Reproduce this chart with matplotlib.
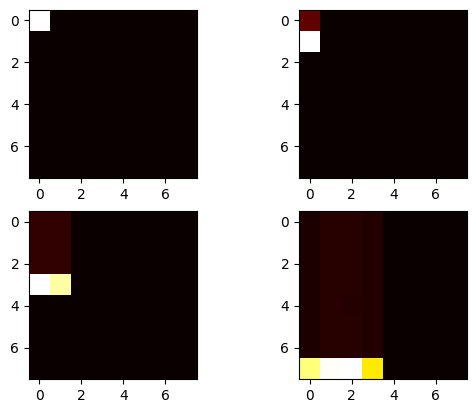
import matplotlib
matplotlib.use('Agg')
import matplotlib.pyplot as plt
import numpy as np

# relative intensity of each cell, one 8x8 grid per frame
frame1 = [
    [1.0, 0, 0, 0, 0, 0, 0, 0],
    [0, 0, 0, 0, 0, 0, 0, 0],
    [0, 0, 0, 0, 0, 0, 0, 0],
    [0, 0, 0, 0, 0, 0, 0, 0],
    [0, 0, 0, 0, 0, 0, 0, 0],
    [0, 0, 0, 0, 0, 0, 0, 0],
    [0, 0, 0, 0, 0, 0, 0, 0],
    [0, 0, 0, 0, 0, 0, 0, 0],
]
frame2 = [
    [0.13, 0, 0, 0, 0, 0, 0, 0],
    [1.0, 0, 0, 0, 0, 0, 0, 0],
    [0, 0, 0, 0, 0, 0, 0, 0],
    [0, 0, 0, 0, 0, 0, 0, 0],
    [0, 0, 0, 0, 0, 0, 0, 0],
    [0, 0, 0, 0, 0, 0, 0, 0],
    [0, 0, 0, 0, 0, 0, 0, 0],
    [0, 0, 0, 0, 0, 0, 0, 0],
]
frame3 = [
    [0.06, 0.06, 0, 0, 0, 0, 0, 0],
    [0.06, 0.06, 0, 0, 0, 0, 0, 0],
    [0.06, 0.06, 0, 0, 0, 0, 0, 0],
    [1.0, 0.91, 0, 0, 0, 0, 0, 0],
    [0, 0, 0, 0, 0, 0, 0, 0],
    [0, 0, 0, 0, 0, 0, 0, 0],
    [0, 0, 0, 0, 0, 0, 0, 0],
    [0, 0, 0, 0, 0, 0, 0, 0],
]
frame4 = [
    [0.029, 0.044, 0.044, 0.036, 0, 0, 0, 0],
    [0.029, 0.044, 0.044, 0.036, 0, 0, 0, 0],
    [0.029, 0.044, 0.044, 0.036, 0, 0, 0, 0],
    [0.029, 0.044, 0.044, 0.036, 0, 0, 0, 0],
    [0.029, 0.044, 0.041, 0.036, 0, 0, 0, 0],
    [0.029, 0.044, 0.044, 0.036, 0, 0, 0, 0],
    [0.029, 0.044, 0.044, 0.036, 0, 0, 0, 0],
    [0.865, 0.99, 1.0, 0.716, 0, 0, 0, 0],
]
frames = [frame1, frame2, frame3, frame4]

W, H = 477, 413
fig = plt.figure(figsize=(W / 100, H / 100), dpi=100)

# axes boxes in pixels: left, top, size
boxes = [(29, 10), (299, 10), (29, 211), (299, 211)]
size = 168

for frame, (x0, y0) in zip(frames, boxes):
    ax = fig.add_axes([x0 / W, (H - y0 - size) / H, size / W, size / H])
    ax.imshow(np.array(frame), cmap='hot')
    ax.set_xticks([0, 2, 4, 6])
    ax.set_yticks([0, 2, 4, 6])

fig.savefig('out.png', dpi=100)
